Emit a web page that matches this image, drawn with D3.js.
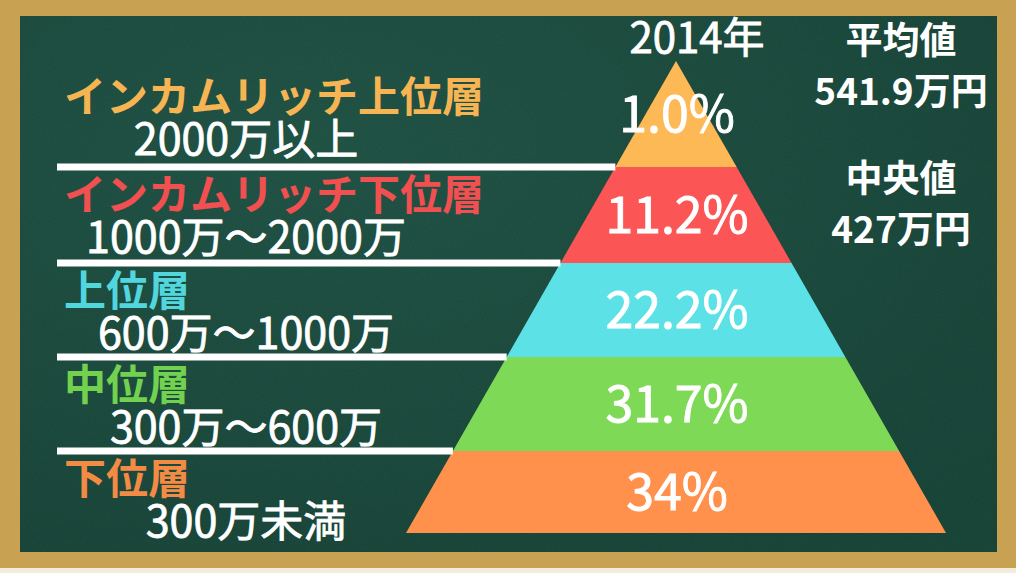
<!DOCTYPE html>
<html>
<head>
<meta charset="utf-8">
<script src="https://cdn.jsdelivr.net/npm/d3@7"></script>
<style>
  html, body { margin: 0; padding: 0; background: #f1ecdc; }
  svg { display: block; }
  text { font-family: "Noto Sans CJK JP", "Noto Sans", sans-serif; }
</style>
</head>
<body>
<script>
// ---- data ----
const tiers = ["インカムリッチ上位層", "インカムリッチ下位層", "上位層", "中位層", "下位層"];
const ranges = ["2000万以上", "1000万～2000万", "600万～1000万", "300万～600万", "300万未満"];
const shares = [1.0, 11.2, 22.2, 31.7, 34];
const shareLabels = ["1.0%", "11.2%", "22.2%", "31.7%", "34%"];
const yearLabel = "2014年";
const statNames = ["平均値", "中央値"];
const statValues = ["541.9万円", "427万円"];

// ---- styles ----
const layerColors = ["#fdb955", "#fb5555", "#5ce1e6", "#7ed957", "#ff914d"];
const textColors = ["#f6b552", "#f14f50", "#52d6de", "#72d24f", "#f38b44"];

const W = 1016, H = 573;
const svg = d3.select("body").append("svg").attr("width", W).attr("height", H);

const defs = svg.append("defs");
const grad = defs.append("radialGradient").attr("id", "board")
  .attr("cx", "30%").attr("cy", "25%").attr("r", "90%");
grad.append("stop").attr("offset", "0%").attr("stop-color", "#1b4e40");
grad.append("stop").attr("offset", "100%").attr("stop-color", "#133f33");
const f = defs.append("filter").attr("id", "chalk").attr("x", 0).attr("y", 0).attr("width", 1).attr("height", 1);
f.append("feTurbulence").attr("type", "fractalNoise").attr("baseFrequency", "0.9").attr("numOctaves", 2).attr("seed", 3).attr("result", "n");
f.append("feColorMatrix").attr("in", "n").attr("type", "matrix")
  .attr("values", "0 0 0 0 1  0 0 0 0 1  0 0 0 0 1  0 0 0 0.05 0").attr("result", "a");
f.append("feComposite").attr("in", "a").attr("in2", "SourceGraphic").attr("operator", "in");

// frame and board
svg.append("rect").attr("x", 0).attr("y", 0).attr("width", W).attr("height", 568).attr("fill", "#c9a152");
svg.append("rect").attr("x", 20).attr("y", 16).attr("width", 977).attr("height", 536).attr("fill", "url(#board)");
svg.append("rect").attr("x", 20).attr("y", 16).attr("width", 977).attr("height", 536).attr("fill", "#fff").attr("filter", "url(#chalk)");

// ---- scales ----
const apexX = 676;
const y = d3.scaleLinear().domain([0, 1, 2, 3, 4, 5]).range([61, 167, 263, 357, 451, 533]);
const halfW = d3.scaleLinear().domain([y(0), y(5)]).range([0, 270]);

const layers = tiers.map((t, i) => ({
  name: t, range: ranges[i], share: shares[i], label: shareLabels[i], i,
  y0: y(i), y1: y(i + 1)
}));

// pyramid layers
svg.append("g").selectAll("path").data(layers).join("path")
  .attr("d", d => {
    const a = halfW(d.y0), b = halfW(d.y1);
    return `M${apexX - a},${d.y0}L${apexX + a},${d.y0}L${apexX + b},${d.y1}L${apexX - b},${d.y1}Z`;
  })
  .attr("fill", (d, i) => layerColors[i]);

// separator lines (between tiers)
const bounds = d3.range(1, tiers.length);
svg.append("g").selectAll("line").data(bounds).join("line")
  .attr("x1", 57).attr("x2", d => apexX - halfW(y(d)))
  .attr("y1", d => y(d)).attr("y2", d => y(d))
  .attr("stroke", "#ffffff").attr("stroke-width", 7);

// tier labels
const nameY = d => (d.i === 0 ? y(1) - 55 : y(d.i) + 43);
svg.append("g").selectAll("text").data(layers).join("text")
  .attr("x", 64).attr("y", nameY)
  .attr("fill", (d, i) => textColors[i])
  .attr("font-size", 42).attr("font-weight", 700)
  .text(d => d.name);

svg.append("g").selectAll("text").data(layers).join("text")
  .attr("x", 246).attr("y", d => nameY(d) + 43)
  .attr("text-anchor", "middle")
  .attr("fill", "#ffffff").attr("stroke", "#ffffff").attr("stroke-width", 0.8)
  .attr("font-size", 43).attr("font-weight", 400)
  .text(d => d.range);

// share labels
svg.append("g").selectAll("text").data(layers).join("text")
  .attr("x", apexX + 1).attr("y", d => (d.y0 + d.y1) / 2 + 18)
  .attr("text-anchor", "middle")
  .attr("fill", "#ffffff").attr("stroke", "#ffffff").attr("stroke-width", 0.9)
  .attr("font-size", 50).attr("font-weight", 400)
  .text(d => d.label);

// year title
svg.append("text").attr("x", 697).attr("y", 53).attr("text-anchor", "middle")
  .attr("fill", "#ffffff").attr("stroke", "#ffffff").attr("stroke-width", 0.8)
  .attr("font-size", 42).attr("font-weight", 400)
  .text(yearLabel);

// stats
const statTop = [54, 192];
statNames.forEach((s, k) => {
  svg.append("text").attr("x", 901).attr("y", statTop[k]).attr("text-anchor", "middle")
    .attr("fill", "#ffffff").attr("font-size", 37).attr("font-weight", 700).text(s);
  svg.append("text").attr("x", 901).attr("y", statTop[k] + 51).attr("text-anchor", "middle")
    .attr("fill", "#ffffff").attr("font-size", 37).attr("font-weight", 700).text(statValues[k]);
});
</script>
</body>
</html>
